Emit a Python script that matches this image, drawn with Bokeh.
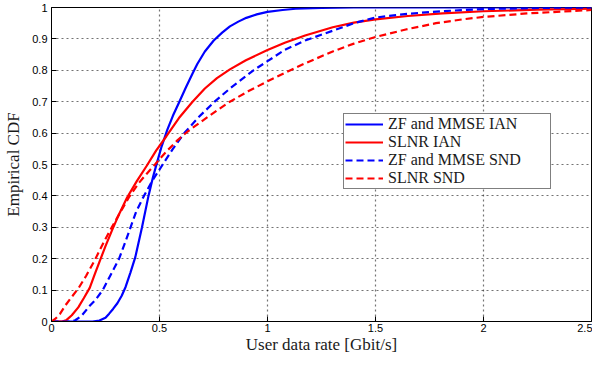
from bokeh.plotting import figure
from bokeh.models import Range1d, FixedTicker, Legend, LegendItem
from bokeh.embed import file_html
from bokeh.resources import INLINE

# ---- data ----
x_ticks = [0, 0.5, 1, 1.5, 2, 2.5]
x_tick_labels = ["0", "0.5", "1", "1.5", "2", "2.5"]
y_ticks = [0, 0.1, 0.2, 0.3, 0.4, 0.5, 0.6, 0.7, 0.8, 0.9, 1]
y_tick_labels = ["0", "0.1", "0.2", "0.3", "0.4", "0.5", "0.6", "0.7", "0.8", "0.9", "1"]

series_names = ["ZF and MMSE IAN", "SLNR IAN", "ZF and MMSE SND", "SLNR SND"]

zf_ian_x = [0, 0.19, 0.222, 0.25, 0.267, 0.285, 0.305, 0.325, 0.343, 0.365, 0.388, 0.419, 0.449,
            0.47, 0.49, 0.51, 0.536, 0.562, 0.592, 0.622, 0.653, 0.675, 0.71, 0.751, 0.79,
            0.826, 0.865, 0.902, 0.95, 1.0, 1.07, 1.13, 1.25, 1.4, 2.5]
zf_ian_y = [0, 0, 0.003, 0.012, 0.025, 0.04, 0.058, 0.082, 0.11, 0.155, 0.205, 0.3, 0.4,
            0.46, 0.51, 0.558, 0.61, 0.655, 0.7, 0.745, 0.79, 0.82, 0.86, 0.895, 0.92,
            0.94, 0.955, 0.967, 0.978, 0.986, 0.992, 0.996, 0.999, 1.0, 1.0]

slnr_ian_x = [0, 0.05, 0.07, 0.094, 0.124, 0.15, 0.177, 0.2, 0.222, 0.25, 0.283, 0.315, 0.35,
              0.395, 0.441, 0.485, 0.532, 0.59, 0.653, 0.71, 0.766, 0.826, 0.9, 1.0, 1.08,
              1.174, 1.302, 1.4, 1.5, 1.65, 1.81, 2.0, 2.25, 2.5]
slnr_ian_y = [0, 0, 0.005, 0.02, 0.045, 0.075, 0.107, 0.15, 0.19, 0.24, 0.295, 0.345, 0.395,
              0.447, 0.496, 0.545, 0.59, 0.648, 0.7, 0.742, 0.775, 0.803, 0.832, 0.865, 0.888,
              0.911, 0.937, 0.952, 0.962, 0.973, 0.981, 0.988, 0.993, 0.996]

zf_snd_x = [0, 0.09, 0.11, 0.139, 0.177, 0.205, 0.237, 0.275, 0.313, 0.34, 0.366, 0.392, 0.428,
            0.468, 0.515, 0.562, 0.615, 0.68, 0.755, 0.826, 0.935, 1.0, 1.08, 1.174, 1.302,
            1.4, 1.5, 1.65, 1.8, 2.0, 2.3, 2.5]
zf_snd_y = [0, 0, 0.004, 0.018, 0.05, 0.07, 0.1, 0.15, 0.2, 0.25, 0.3, 0.35, 0.4,
            0.45, 0.5, 0.55, 0.6, 0.65, 0.7, 0.742, 0.8, 0.829, 0.865, 0.895, 0.926,
            0.95, 0.968, 0.98, 0.988, 0.995, 0.999, 1.0]

slnr_snd_x = [0, 0.02, 0.04, 0.063, 0.09, 0.124, 0.16, 0.2, 0.24, 0.283, 0.32, 0.358, 0.403,
              0.44, 0.479, 0.53, 0.58, 0.63, 0.7, 0.766, 0.826, 0.91, 1.0, 1.09, 1.174,
              1.302, 1.4, 1.5, 1.64, 1.78, 1.9, 2.0, 2.2, 2.5]
slnr_snd_y = [0, 0.01, 0.025, 0.05, 0.075, 0.105, 0.145, 0.195, 0.25, 0.305, 0.35, 0.395, 0.44,
              0.47, 0.5, 0.54, 0.575, 0.605, 0.64, 0.672, 0.7, 0.733, 0.765, 0.795, 0.822,
              0.86, 0.885, 0.906, 0.93, 0.95, 0.962, 0.97, 0.981, 0.992]

x_label = "User data rate [Gbit/s]"
y_label = "Empirical CDF"

# ---- figure ----
p = figure(width=592, height=356, x_range=Range1d(0, 2.5), y_range=Range1d(0, 1),
           output_backend="svg", toolbar_location=None,
           min_border_left=51, min_border_right=1, min_border_top=7, min_border_bottom=30)
p.background_fill_color = "white"
p.border_fill_color = "white"
p.outline_line_color = "black"
p.outline_line_width = 1
p.outline_line_alpha = 1

TICK_FONT = "Liberation Sans"
LABEL_FONT = "Liberation Serif"

for ax, ticks, labels in ((p.xaxis[0], x_ticks, x_tick_labels), (p.yaxis[0], y_ticks, y_tick_labels)):
    ax.ticker = FixedTicker(ticks=ticks)
    ax.major_label_overrides = {float(t): l for t, l in zip(ticks, labels)}
    ax.major_label_text_font = TICK_FONT
    ax.major_label_text_font_size = "11px"
    ax.major_label_text_color = "black"
    ax.major_tick_in = 5
    ax.major_tick_out = 0
    ax.major_tick_line_width = 1
    ax.minor_tick_line_color = None
    ax.axis_line_color = "black"
    ax.major_tick_line_color = "black"
    ax.axis_label_text_font = LABEL_FONT
    ax.axis_label_text_font_size = "17px"
    ax.axis_label_text_font_style = "normal"
    ax.axis_label_text_color = "#1a1a1a"

p.xaxis.axis_label = x_label
p.yaxis.axis_label = y_label
p.xaxis.major_label_standoff = 2
p.xaxis.axis_label_standoff = 0
p.yaxis.major_label_standoff = 4
p.yaxis.axis_label_standoff = 6

p.xgrid[0].ticker = FixedTicker(ticks=x_ticks)
p.ygrid[0].ticker = FixedTicker(ticks=y_ticks)
for g in (p.xgrid[0], p.ygrid[0]):
    g.grid_line_color = "#000000"
    g.grid_line_dash = "2 3"
    g.grid_line_width = 1.2
    g.grid_line_alpha = 0.55

r1 = p.line(zf_ian_x, zf_ian_y, line_color="#0000ff", line_width=2.2)
r2 = p.line(slnr_ian_x, slnr_ian_y, line_color="#ff0000", line_width=2.2)
r3 = p.line(zf_snd_x, zf_snd_y, line_color="#0000ff", line_width=2.2, line_dash="7 4")
r4 = p.line(slnr_snd_x, slnr_snd_y, line_color="#ff0000", line_width=2.2, line_dash="7 4")

legend = Legend(items=[LegendItem(label=n, renderers=[r]) for n, r in zip(series_names, [r1, r2, r3, r4])],
                location=(292, 132))
legend.label_text_font = LABEL_FONT
legend.label_text_font_size = "16px"
legend.label_text_color = "#1a1a1a"
legend.glyph_width = 38
legend.glyph_height = 14
legend.label_height = 14
legend.label_width = 161
legend.label_standoff = 5
legend.spacing = 0
legend.padding = 1
legend.margin = 0
legend.border_line_color = "black"
legend.border_line_width = 1
legend.background_fill_alpha = 1
p.add_layout(legend)

open("out.html", "w").write(file_html(p, INLINE))
